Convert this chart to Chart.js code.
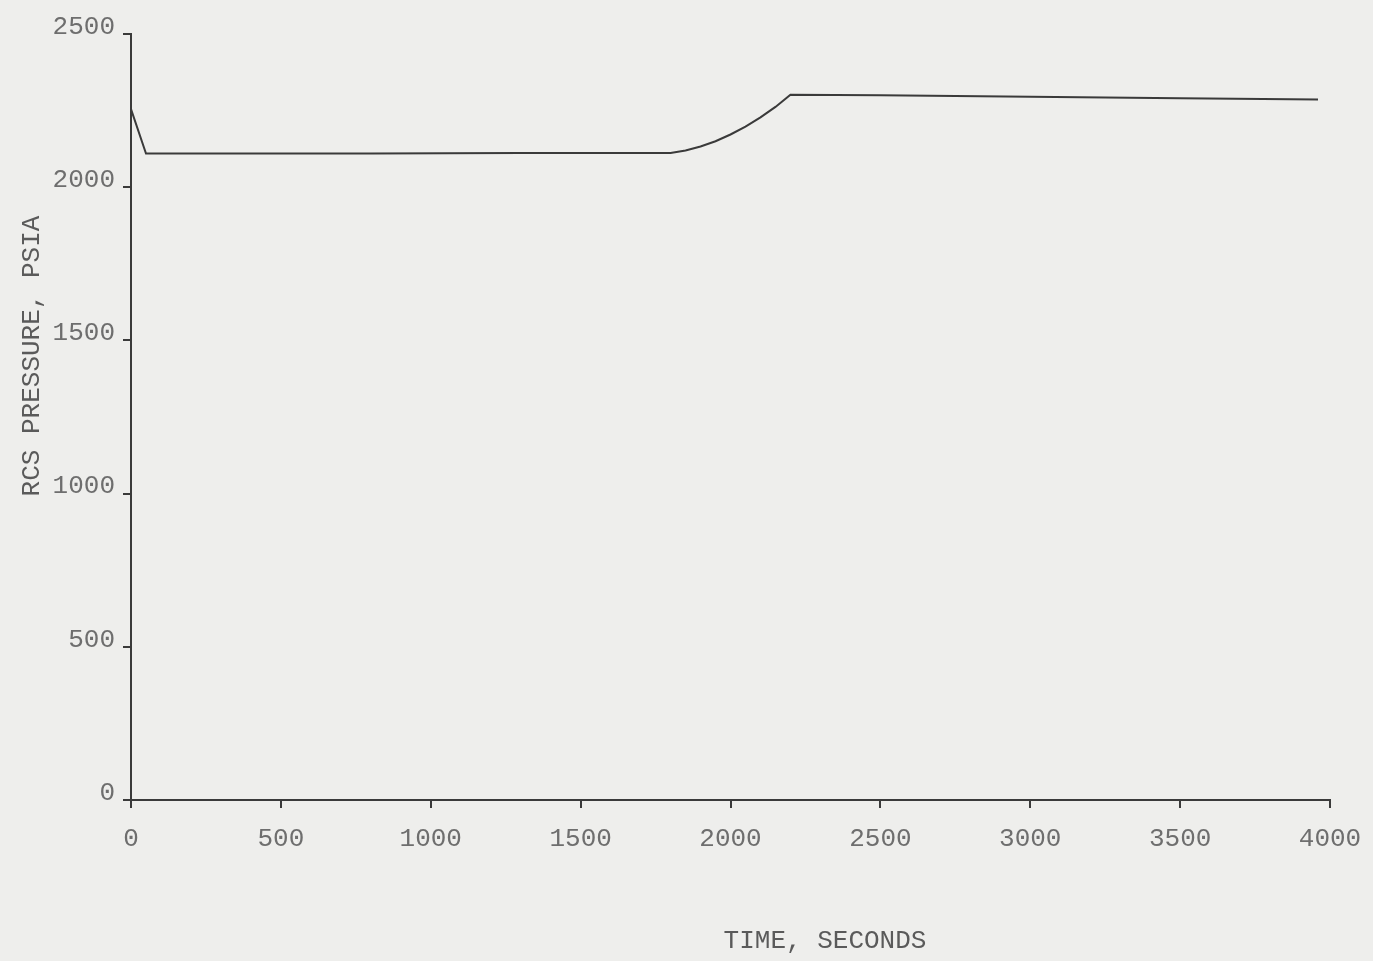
<!DOCTYPE html>
<html>
<head>
<meta charset="utf-8">
<script src="https://cdn.jsdelivr.net/npm/chart.js@4.4.1/dist/chart.umd.min.js"></script>
<style>
  html, body { margin: 0; padding: 0; background: #eeeeec; }
  #wrap { width: 1373px; height: 961px; position: relative; }
</style>
</head>
<body>
<div id="wrap"><canvas id="c" width="1373" height="961"></canvas></div>
<script>
// Data
const timeSeconds = [0, 50, 300, 800, 1300, 1800, 1850, 1900, 1950, 2000, 2050, 2100, 2150, 2200, 2500, 3000, 3500, 3960];
const rcsPressure = [2255, 2110, 2110, 2110, 2112, 2112, 2120, 2133, 2150, 2172, 2198, 2228, 2262, 2302, 2300, 2295, 2290, 2286];
const xTicks = [0, 500, 1000, 1500, 2000, 2500, 3000, 3500, 4000];
const yTicks = [0, 500, 1000, 1500, 2000, 2500];
const xTitle = 'TIME, SECONDS';
const yTitle = 'RCS PRESSURE, PSIA';

const points = timeSeconds.map((t, i) => ({ x: t, y: rcsPressure[i] }));
const FONT = '"Liberation Mono", "DejaVu Sans Mono", monospace';

const bgPlugin = {
  id: 'bg',
  beforeDraw(chart) {
    const ctx = chart.ctx;
    ctx.save();
    ctx.fillStyle = '#eeeeec';
    ctx.fillRect(0, 0, chart.width, chart.height);
    ctx.restore();
  }
};

const titlesPlugin = {
  id: 'axisTitles',
  afterDraw(chart) {
    const ctx = chart.ctx;
    ctx.save();
    ctx.fillStyle = '#5a5a5a';
    ctx.font = '26px ' + FONT;
    ctx.textAlign = 'center';
    ctx.textBaseline = 'middle';
    ctx.fillText(xTitle, 825, 941);
    ctx.translate(32, 356);
    ctx.rotate(-Math.PI / 2);
    ctx.fillText(yTitle, 0, 0);
    ctx.restore();
  }
};

new Chart(document.getElementById('c'), {
  type: 'line',
  data: {
    datasets: [{
      data: points,
      borderColor: '#3a3a3a',
      borderWidth: 2,
      pointRadius: 0,
      tension: 0,
      fill: false
    }]
  },
  options: {
    responsive: false,
    animation: false,
    devicePixelRatio: 1,
    layout: { padding: { left: 0, top: 34, right: 43, bottom: 0 } },
    plugins: { legend: { display: false }, tooltip: { enabled: false } },
    scales: {
      x: {
        type: 'linear',
        min: 0, max: 4000,
        afterFit(s) { s.height = 161; s.paddingLeft = 0; s.paddingRight = 0; },
        afterBuildTicks(s) { s.ticks = xTicks.map(v => ({ value: v })); },
        border: { display: true, color: '#3a3a3a', width: 2 },
        grid: { display: true, drawOnChartArea: false, drawTicks: true, tickLength: 8, color: '#3a3a3a', lineWidth: 2 },
        ticks: { color: '#6e6e6e', font: { family: FONT, size: 26 }, padding: 16, maxRotation: 0, autoSkip: false,
                 callback: v => String(v) }
      },
      y: {
        type: 'linear',
        min: 0, max: 2500,
        afterFit(s) { s.width = 131; s.paddingTop = 0; s.paddingBottom = 0; },
        afterBuildTicks(s) { s.ticks = yTicks.map(v => ({ value: v })); },
        border: { display: true, color: '#3a3a3a', width: 2 },
        grid: { display: true, drawOnChartArea: false, drawTicks: true, tickLength: 8, color: '#3a3a3a', lineWidth: 2 },
        ticks: { color: '#6e6e6e', font: { family: FONT, size: 26 }, padding: 8, labelOffset: -7, autoSkip: false,
                 callback: v => String(v) }
      }
    }
  },
  plugins: [bgPlugin, titlesPlugin]
});
</script>
</body>
</html>
